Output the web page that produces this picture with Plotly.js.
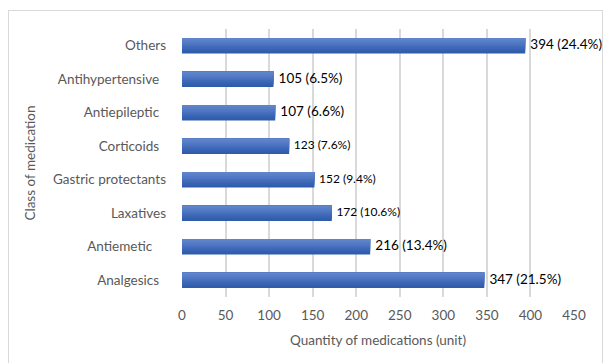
<!DOCTYPE html>
<html>
<head>
<meta charset="utf-8">
<script src="https://cdn.plot.ly/plotly-3.0.1.min.js"></script>
<style>
  html, body { margin: 0; padding: 0; background: #fff; overflow: hidden; }
  #wrap { position: relative; width: 604px; height: 363px; }
  #chart { position: absolute; left: 0; top: 0; width: 604px; height: 363px; }
  #frame { position: absolute; left: 8px; top: 10px; width: 595px; height: 380px;
           border: 1px solid #d9d9d9; pointer-events: none; box-sizing: border-box; }
</style>
</head>
<body>
<div id="wrap">
  <div id="chart"></div>
  <div id="frame"></div>
</div>
<script>
// Data (bottom to top as drawn)
const categories = ["Analgesics\u00a0\u00a0", "Antiemetic\u00a0\u00a0\u00a0\u00a0", "Laxatives", "Gastric protectants",
                    "Corticoids\u00a0\u00a0", "Antiepileptic\u00a0\u00a0", "Antihypertensive\u00a0\u00a0", "Others"];
const quantities = [347, 216, 172, 152, 123, 107, 105, 394];
const percents = ["21.5%", "13.4%", "10.6%", "9.4%", "7.6%", "6.6%", "6.5%", "24.4%"];
const labelSizes = [13.5, 13.5, 12, 12, 12, 13.5, 13.5, 13.5];
const xTicks = [0, 50, 100, 150, 200, 250, 300, 350, 400, 450];

// Gradient bands (bottom dark -> top light), stacked as shrinking overlays
const bandColors = ["#2f5dab", "#3662b1", "#3e68b7", "#476fbd", "#5077c3", "#587ec8", "#5f84cc"];
const barWidth = 0.46;
const nb = bandColors.length;
const traces = bandColors.map((c, i) => ({
  type: "bar",
  orientation: "h",
  x: quantities,
  y: categories,
  width: barWidth - i * barWidth / nb,
  offset: -barWidth / 2 + i * barWidth / nb,
  marker: { color: c, line: { width: 0 } },
  hoverinfo: "skip",
  showlegend: false
}));

traces.push({
  type: "scatter",
  mode: "text",
  x: quantities,
  y: categories,
  text: quantities.map((q, i) => "\u2009\u00a0" + q + " (" + percents[i] + ")"),
  textposition: "middle right",
  textfont: { family: "Lato, 'Open Sans', sans-serif", size: labelSizes, color: "#000000" },
  hoverinfo: "skip",
  showlegend: false,
  cliponaxis: false
});

const layout = {
  width: 604, height: 363,
  margin: { l: 182, r: 30, t: 29, b: 66 },
  paper_bgcolor: "#ffffff",
  plot_bgcolor: "#ffffff",
  barmode: "overlay",
  font: { family: "Lato, 'Open Sans', sans-serif", size: 13.5, color: "#595959" },
  xaxis: {
    range: [0, 450],
    tickvals: xTicks,
    ticktext: xTicks.map(String),
    showgrid: true,
    gridcolor: "#d9d9d9",
    gridwidth: 2,
    zeroline: false,
    showline: false,
    ticks: "",
    ticklabelstandoff: 8,
    tickfont: { size: 13.5, color: "#595959" },
    title: { text: "Quantity of medications (unit)", font: { size: 13.5, color: "#595959" }, standoff: 14 }
  },
  yaxis: {
    type: "category",
    categoryorder: "array",
    categoryarray: categories,
    range: [-0.5, 7.5],
    showgrid: false,
    zeroline: false,
    showline: false,
    ticks: "",
    ticklabelstandoff: 15,
    tickfont: { size: 13.5, color: "#595959" },
    title: { text: "Class of medication", font: { size: 13.5, color: "#595959" }, standoff: 14 }
  }
};

Plotly.newPlot("chart", traces, layout, { displayModeBar: false, staticPlot: true });
</script>
</body>
</html>
